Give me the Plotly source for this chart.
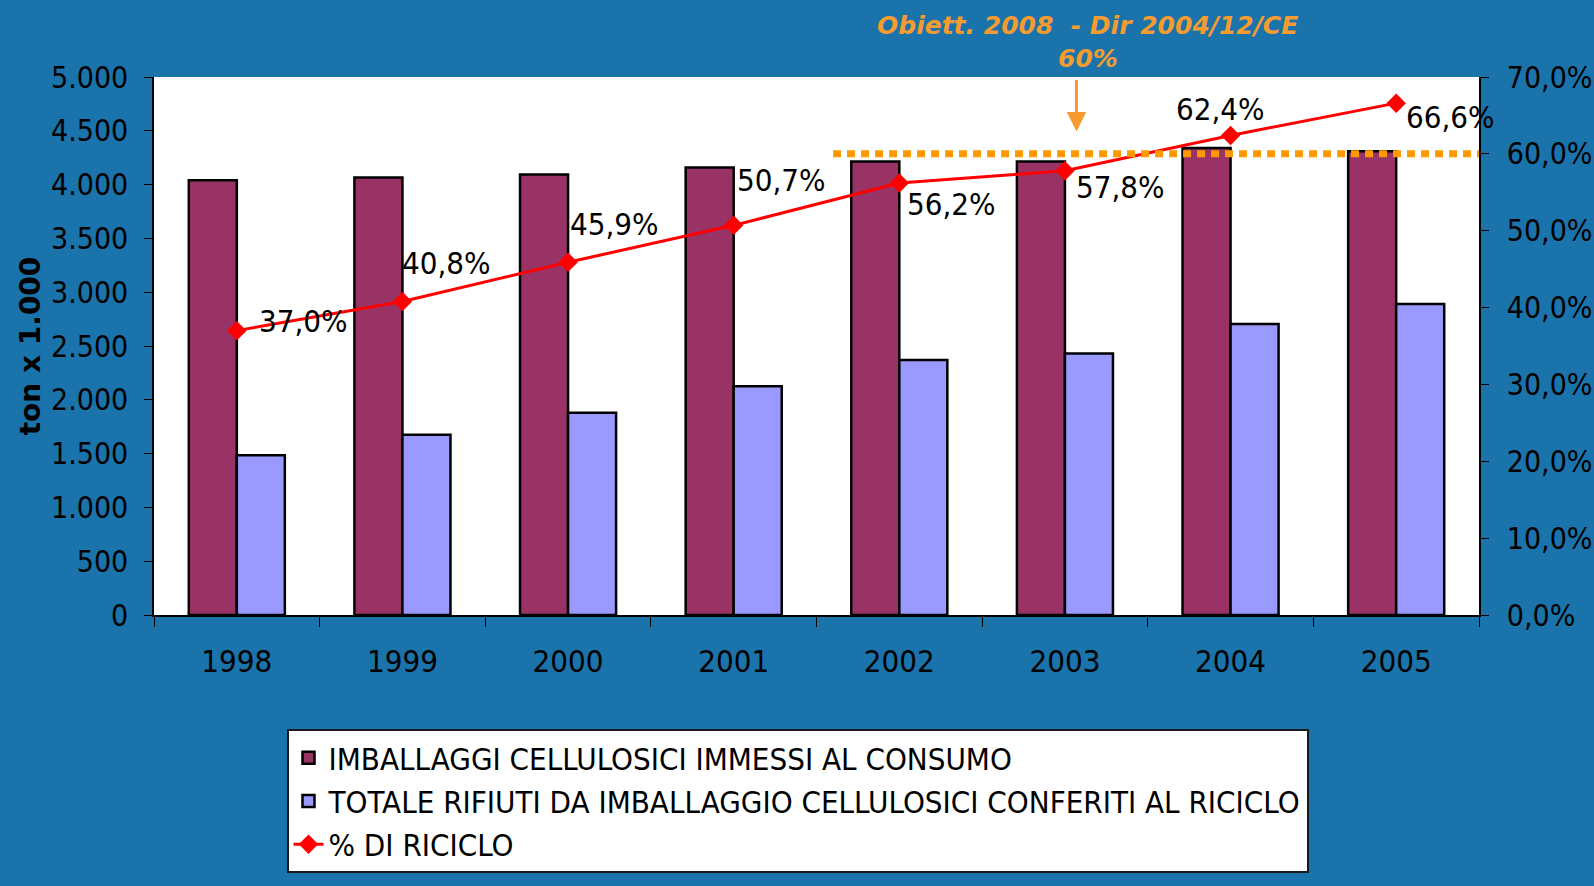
import plotly.graph_objects as go
from plotly.subplots import make_subplots

years = ["1998", "1999", "2000", "2001", "2002", "2003", "2004", "2005"]
immessi = [4040, 4065, 4095, 4160, 4215, 4215, 4340, 4310]
riciclo = [1485, 1675, 1880, 2125, 2370, 2430, 2705, 2890]
perc = [37.0, 40.8, 45.9, 50.7, 56.2, 57.8, 62.4, 66.6]
perc_labels = ["37,0%", "40,8%", "45,9%", "50,7%", "56,2%", "57,8%", "62,4%", "66,6%"]
target = 60.0
series_names = [
    "IMBALLAGGI CELLULOSICI IMMESSI AL CONSUMO",
    "TOTALE RIFIUTI DA IMBALLAGGIO CELLULOSICI CONFERITI AL RICICLO",
    "% DI RICICLO",
]

# pixel offsets of the data labels (style)
label_dx = [67, 44, 46, 48, 52, 56, -10, 54]
label_dy = [10, 38, 38, 45, -21, -16, 26, -14]

NARROW = "Liberation Sans Narrow, Arial Narrow, DejaVu Sans Condensed, Roboto Condensed, sans-serif"
BG = "#1B73AB"
ORANGE = "#F59B2F"

fig = make_subplots(specs=[[{"secondary_y": True}]])

fig.add_trace(go.Bar(
    x=years, y=immessi, name=series_names[0],
    marker=dict(color="#993366", line=dict(color="black", width=2.5)),
), secondary_y=False)
fig.add_trace(go.Bar(
    x=years, y=riciclo, name=series_names[1],
    marker=dict(color="#9999FF", line=dict(color="black", width=2.5)),
), secondary_y=False)
fig.add_trace(go.Scatter(
    x=years, y=perc, name=series_names[2], mode="lines+markers",
    line=dict(color="#FF0000", width=3),
    marker=dict(symbol="diamond", size=15, color="#FF0000"),
), secondary_y=True)

annotations = []
for i, (yv, lab) in enumerate(zip(perc, perc_labels)):
    annotations.append(dict(
        x=i, y=yv, xref="x", yref="y2", text=lab, showarrow=False,
        xanchor="center", yanchor="middle",
        xshift=label_dx[i], yshift=label_dy[i],
        font=dict(family=NARROW, size=31, color="black"),
    ))

annotations.append(dict(
    x=0.7048, y=1.096, xref="paper", yref="paper", showarrow=False,
    xanchor="center", yanchor="middle",
    text="<b><i>Obiett. 2008 &nbsp;- Dir 2004/12/CE</i></b>",
    font=dict(family="DejaVu Sans", size=25, color=ORANGE),
))
annotations.append(dict(
    x=0.7048, y=1.035, xref="paper", yref="paper", showarrow=False,
    xanchor="center", yanchor="middle",
    text="<b><i>60%</i></b>",
    font=dict(family="DejaVu Sans", size=25, color=ORANGE),
))
annotations.append(dict(
    x=5.07, y=62.9, xref="x", yref="y2", text="", showarrow=True,
    ax=0, ay=-53, arrowcolor=ORANGE, arrowwidth=3, arrowhead=2, arrowsize=1.3,
))

fig.add_shape(type="line", xref="x", yref="y2", x0=3.6, x1=7.5, y0=target, y1=target,
              line=dict(color="#FF9900", width=7, dash="8px,6px"), layer="above")

fig.update_layout(
    width=1594, height=886,
    paper_bgcolor=BG, plot_bgcolor="white",
    margin=dict(l=154, r=115, t=77, b=271),
    barmode="group", bargap=0.42, bargroupgap=0,
    separators=",.",
    showlegend=True,
    legend=dict(
        x=0.1, y=-0.212, xanchor="left", yanchor="top",
        bgcolor="white", bordercolor="#1a1a1a", borderwidth=2,
        font=dict(family=NARROW, size=31, color="black"),
        tracegroupgap=0,
    ),
    annotations=annotations,
    font=dict(family=NARROW, color="black"),
)

fig.update_xaxes(
    type="category", range=[-0.5, 7.5], domain=[0, 1], tickson="boundaries", ticks="outside", ticklen=10,
    tickcolor="black", tickangle=0, automargin=False,
    showline=True, linecolor="black", linewidth=1.5, showgrid=False,
    tickfont=dict(family=NARROW, size=31, color="black"), ticklabelstandoff=18,
)
fig.update_yaxes(
    range=[0, 5000], dtick=500, tickformat=",", ticks="outside", ticklen=8, tickcolor="black",
    showline=True, linecolor="black", linewidth=1.5, showgrid=False, zeroline=False,
    automargin=False,
    tickfont=dict(family=NARROW, size=30, color="black"), ticklabelstandoff=10,
    title=dict(text="<b>ton x 1.000</b>", font=dict(family="DejaVu Sans", size=28, color="black"), standoff=2),
    secondary_y=False,
)
fig.update_yaxes(
    range=[0, 70], dtick=10, tickformat=".1f", ticksuffix="%", ticks="outside", ticklen=8, tickcolor="black",
    showline=True, linecolor="black", linewidth=1.5, showgrid=False, zeroline=False,
    automargin=False,
    tickfont=dict(family=NARROW, size=30, color="black"), ticklabelstandoff=12,
    secondary_y=True,
)

fig.write_html(
    "out.html",
    config={"displayModeBar": False},
    post_script="document.body.style.margin='0';document.body.style.background='" + BG + "';",
)
